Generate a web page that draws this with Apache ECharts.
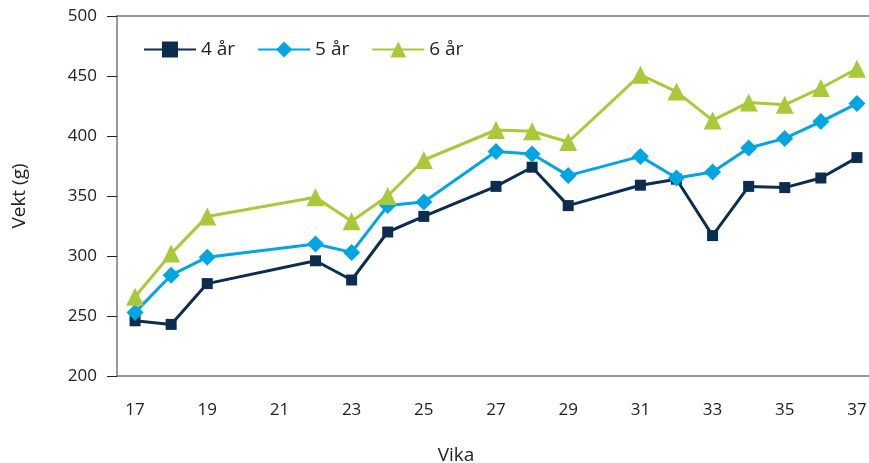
<!DOCTYPE html>
<html>
<head>
<meta charset="utf-8">
<script src="https://cdn.jsdelivr.net/npm/echarts@6/dist/echarts.min.js"></script>
<style>html,body{margin:0;padding:0;background:#fff;overflow:hidden}#c{width:869px;height:463px}</style>
</head>
<body>
<div id="c"></div>
<script>
const weeks = ['17','18','19','20','21','22','23','24','25','26','27','28','29','30','31','32','33','34','35','36','37'];
const yr4 = [246,243,277,null,null,296,280,320,333,null,358,374,342,null,359,364,317,358,357,365,382];
const yr5 = [253,284,299,null,null,310,303,342,345,null,387,385,367,null,383,365,370,390,398,412,427];
const yr6 = [266,302,333,null,null,349,329,350,380,null,405,404,395,null,451,437,413,428,426,440,456];
const seriesNames = ['4 år','5 år','6 år'];
const yTicks = {min:200, max:500, interval:50};

const font = 'Open Sans';
const chart = echarts.init(document.getElementById('c'));
function mk(name, data, color, symbol, size){
  return {name, type:'line', data, connectNulls:true, symbol, symbolSize:size,
    showAllSymbol:true,
    lineStyle:{color, width:3}, itemStyle:{color}, emphasis:{disabled:true}};
}
chart.setOption({
  animation:false,
  grid:{left:117, right:-6, top:16, bottom:87, outerBoundsMode:'none', containLabel:false},
  legend:{left:138, top:35, itemWidth:52, itemHeight:20, itemGap:22,
    textStyle:{fontFamily:font, fontSize:19, color:'#222'}, data:seriesNames},
  xAxis:[{type:'category', data:weeks, boundaryGap:true,
    name:'Vika', nameLocation:'middle', nameGap:70,
    nameTextStyle:{fontFamily:font, fontSize:19, color:'#222', padding:[0,80,0,0]},
    axisLine:{lineStyle:{color:'#777', width:1.5}},
    axisTick:{interval:0, length:10, lineStyle:{color:'#222'}},
    axisLabel:{interval:1, margin:26, fontFamily:font, fontSize:17, color:'#222'}},
   {type:'category', data:weeks, position:'top', axisLine:{show:true, lineStyle:{color:'#777', width:1.5}},
    axisTick:{show:false}, axisLabel:{show:false}}],
  yAxis:{type:'value', min:yTicks.min, max:yTicks.max, interval:yTicks.interval,
    name:'Vekt (g)', nameLocation:'middle', nameGap:88, nameRotate:90,
    nameTextStyle:{fontFamily:font, fontSize:19, color:'#222'},
    axisLine:{show:true, lineStyle:{color:'#777', width:1.5}},
    axisTick:{show:true, length:10, lineStyle:{color:'#222'}},
    splitLine:{show:false},
    axisLabel:{margin:20, fontFamily:font, fontSize:17, color:'#222'}},
  series:[
    mk(seriesNames[0], yr4, '#0c2d50', 'rect', 11),
    mk(seriesNames[1], yr5, '#00a5e1', 'diamond', 17),
    mk(seriesNames[2], yr6, '#a9c93a', 'triangle', 18)
  ]
});
</script>
</body>
</html>
